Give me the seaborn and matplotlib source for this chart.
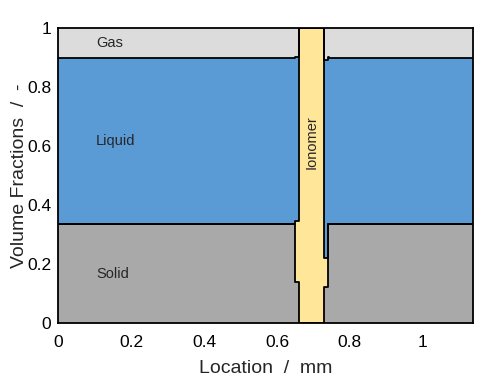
import numpy as np
import matplotlib
matplotlib.use("Agg")
from matplotlib import pyplot as plt
import seaborn as sns

# cell edges along the location (mm) and volume fraction of each phase per cell
edges = [0.0, 0.649, 0.661, 0.730, 0.741, 0.744, 1.138]
solid = [0.335, 0.140, 0.000, 0.123, 0.335, 0.335]
ionomer = [0.000, 0.205, 1.000, 0.096, 0.000, 0.000]
liquid = [0.562, 0.555, 0.000, 0.673, 0.568, 0.562]

phase_names = ["Solid", "Ionomer", "Liquid", "Gas"]
phase_colors = ["#a9a9a9", "#ffe699", "#5b9bd5", "#dcdcdc"]
xticks = [0, 0.2, 0.4, 0.6, 0.8, 1]
yticks = [0, 0.2, 0.4, 0.6, 0.8, 1]

sns.set_style("ticks")
plt.rcParams['font.family'] = ['Liberation Sans', 'DejaVu Sans']

gas = [1 - s - i - l for s, i, l in zip(solid, ionomer, liquid)]
layers = np.array([solid, ionomer, liquid, gas])
layers = np.hstack([layers, layers[:, -1:]])  # repeat last for step drawing
tops = np.cumsum(layers, axis=0)
bottoms = np.vstack([np.zeros(len(edges)), tops[:-1]])

fig = plt.figure(figsize=(4.93, 3.79), dpi=100)
ax = fig.add_axes([0.1176, 0.1478, 0.8424, 0.7784])

for k in range(len(phase_names)):
    ax.fill_between(edges, bottoms[k], tops[k], step='post',
                    color=phase_colors[k], linewidth=0, zorder=1)
for k in range(len(phase_names) - 1):
    sns.lineplot(x=edges, y=tops[k], drawstyle='steps-post', color='black',
                 linewidth=1.3, ax=ax, zorder=2, estimator=None, sort=False)

ax.text(0.104, 0.949, "Gas", fontsize=10.5, va='center')
ax.text(0.104, 0.617, "Liquid", fontsize=10.5, va='center')
ax.text(0.104, 0.166, "Solid", fontsize=10.5, va='center')
ax.text(0.6955, 0.613, "Ionomer", fontsize=10.5, rotation=90,
        ha='center', va='center')

ax.set_xlim(0, edges[-1])
ax.set_ylim(0, 1)
ax.set_xticks(xticks)
ax.set_yticks(yticks)
ax.set_xticklabels([f"{t:g}" for t in xticks])
ax.set_yticklabels([f"{t:g}" for t in yticks])
ax.tick_params(length=0, pad=5, labelsize=12.5, colors='black')
ax.tick_params(axis='x', pad=8.5)
for sp in ax.spines.values():
    sp.set_color('black')
    sp.set_linewidth(1.3)
    sp.set_zorder(3)
ax.set_xlabel("Location  /  mm", fontsize=14, labelpad=7.5)
ax.set_ylabel("Volume Fractions  /  -", fontsize=14, labelpad=-1)

fig.savefig("out.png", dpi=100)
